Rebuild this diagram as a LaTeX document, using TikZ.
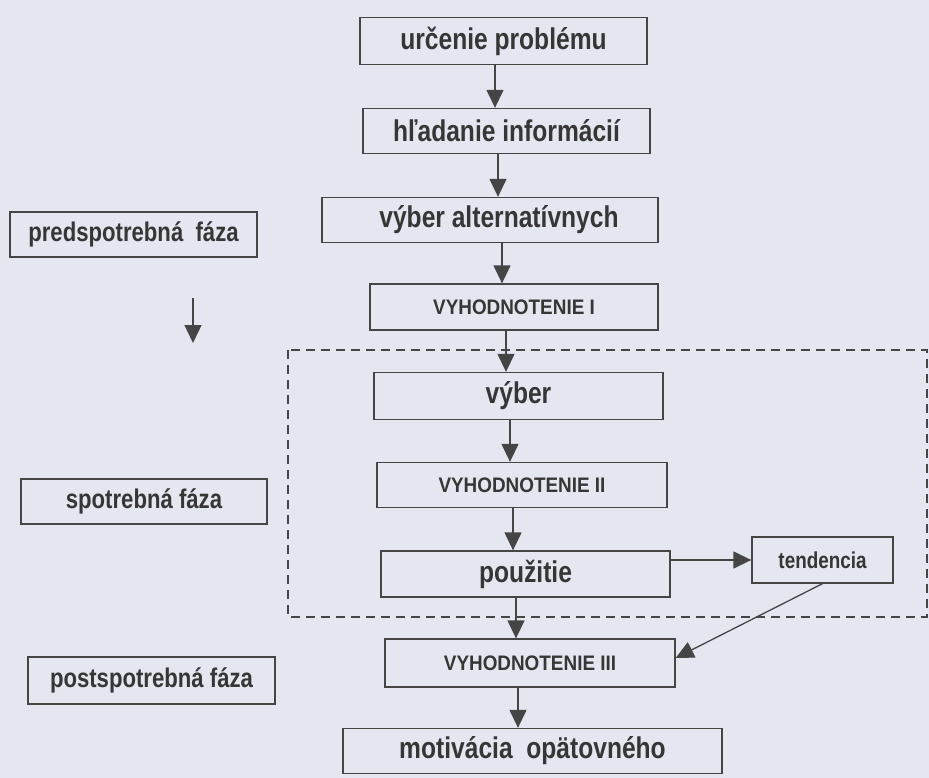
\documentclass[tikz,border=0pt]{standalone}
\usepackage{fontspec}
\setmainfont[FakeStretch=0.82]{Liberation Sans}
\newfontfamily\capsf[FakeStretch=0.9]{Liberation Sans}
\usetikzlibrary{arrows.meta}
\definecolor{bg}{HTML}{E4E7F0}
\definecolor{ln}{HTML}{454545}
\definecolor{txt}{HTML}{363636}
\tikzset{
  box/.style={draw=ln, line width=1.3pt, inner sep=0pt, text=txt, font=\bfseries\fontsize{30}{32}\selectfont},
  capbox/.style={box, font=\capsf\bfseries\fontsize{21}{23}\selectfont},
  phase/.style={box, font=\bfseries\fontsize{27}{29}\selectfont},
  arr/.style={draw=ln, line width=1.3pt, -{Triangle[length=18pt,width=17pt]}, color=ln},
  dashbox/.style={draw=ln, line width=2pt, dash pattern=on 9pt off 6pt}
}
\begin{document}
\begin{tikzpicture}[x=1pt,y=-1pt]
\fill[bg] (0,0) rectangle (929,778);
\useasboundingbox (0,0) rectangle (929,778);

% dashed region
\draw[dashbox] (288,350) rectangle (927,617);

% main column
\node[box, minimum width=287pt, minimum height=47pt] (urc) at (503.5,41) {určenie problému};
\node[box, minimum width=287pt, minimum height=45pt] (hlad) at (506.5,131) {hľadanie informácií};
\node[box, minimum width=336pt, minimum height=45pt] (vyalt) at (490,220) {\hspace*{18pt}výber alternatívnych};
\node[capbox, minimum width=288pt, minimum height=46pt] (vyh1) at (514,307) {VYHODNOTENIE I};
\node[box, minimum width=289pt, minimum height=47pt] (vyber) at (518.5,396) {výber};
\node[capbox, minimum width=290pt, minimum height=45pt] (vyh2) at (522,485) {VYHODNOTENIE II};
\node[box, minimum width=289pt, minimum height=46pt] (pouz) at (525.5,574) {použitie};
\node[box, minimum width=141pt, minimum height=46pt, font=\bfseries\fontsize{23}{25}\selectfont] (tend) at (822.5,560) {tendencia};
\node[capbox, minimum width=290pt, minimum height=48pt] (vyh3) at (530,663) {VYHODNOTENIE III};
\node[box, minimum width=379pt, minimum height=45pt] (motiv) at (532.5,751) {motivácia\ \ opätovného};

% phases
\node[phase, minimum width=247pt, minimum height=45pt] (pred) at (133.5,234.5) {predspotrebná\ \ fáza};
\node[phase, minimum width=246pt, minimum height=45pt] (spot) at (144,501.5) {spotrebná fáza};
\node[phase, minimum width=247pt, minimum height=47pt] (post) at (151.5,680.5) {postspotrebná fáza};

% arrows
\draw[arr] (urc.south -| 495,0) -- (hlad.north -| 495,0);
\draw[arr] (hlad.south -| 498,0) -- (vyalt.north -| 498,0);
\draw[arr] (vyalt.south -| 502,0) -- (vyh1.north -| 502,0);
\draw[arr] (vyh1.south -| 506,0) -- (vyber.north -| 506,0);
\draw[arr] (vyber.south -| 510,0) -- (vyh2.north -| 510,0);
\draw[arr] (vyh2.south -| 513,0) -- (pouz.north -| 513,0);
\draw[arr] (pouz.south -| 516,0) -- (vyh3.north -| 516,0);
\draw[arr] (vyh3.south -| 518,0) -- (motiv.north -| 518,0);
\draw[arr] (pouz.east |- tend.west) -- (tend.west);
\draw[arr] (tend.south) -- ([yshift=5pt]vyh3.east);

\coordinate (s1) at (193,298);
\coordinate (s2) at (193,343);
\draw[arr] (s1) -- (s2);
\end{tikzpicture}
\end{document}
